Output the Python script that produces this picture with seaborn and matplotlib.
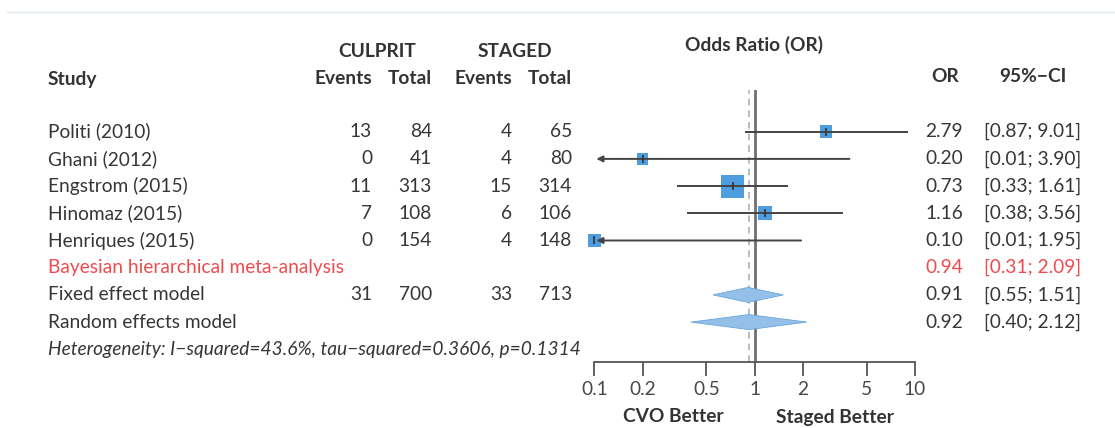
import numpy as np
import pandas as pd
import matplotlib
matplotlib.use("Agg")
import matplotlib.pyplot as plt
import matplotlib.transforms as mtransforms
import seaborn as sns

# ---------------- data ----------------
studies = ["Politi (2010)", "Ghani (2012)", "Engstrom (2015)", "Hinomaz (2015)", "Henriques (2015)"]
culprit_events = [13, 0, 11, 7, 0]
culprit_total = [84, 41, 313, 108, 154]
staged_events = [4, 4, 15, 6, 4]
staged_total = [65, 80, 314, 106, 148]
or_est = [2.79, 0.20, 0.73, 1.16, 0.10]
ci_low = [0.87, 0.01, 0.33, 0.38, 0.01]
ci_high = [9.01, 3.90, 1.61, 3.56, 1.95]
weights = [13.3, 11.3, 43.6, 16.8, 15.0]

summary_labels = ["Bayesian hierarchical meta-analysis", "Fixed effect model", "Random effects model"]
summary_or = [0.94, 0.91, 0.92]
summary_low = [0.31, 0.55, 0.40]
summary_high = [2.09, 1.51, 2.12]
fixed_totals = [31, 700, 33, 713]

heterogeneity = "Heterogeneity: I\u2212squared=43.6%, tau\u2212squared=0.3606, p=0.1314"
x_ticks = [0.1, 0.2, 0.5, 1, 2, 5, 10]
x_ticklabels = ["0.1", "0.2", "0.5", "1", "2", "5", "10"]
reference_line = 0.92

# ---------------- style ----------------
sns.set_theme(style="white")
plt.rcParams["font.family"] = ["Lato", "DejaVu Sans"]
FS = 13.8
TXT = "#363636"
RED = "#ef4b4f"
SQ = "#4d9de0"
DIA = "#93bfe8"
HDR_W = "bold"

W, H = 1115, 428
fig = plt.figure(figsize=(W / 100, H / 100), dpi=100)
fig.patch.set_facecolor("white")

# axes for the forest panel (pixels: x 594-915, y 90-362)
ax_left, ax_right, ax_top, ax_bot = 594.3, 915.0, 90.0, 361.7
ax = fig.add_axes([ax_left / W, (H - ax_bot) / H, (ax_right - ax_left) / W, (ax_bot - ax_top) / H])
ax.set_xscale("log")
row0, step = 131.7, 27.2

rows = np.arange(len(studies))
df = pd.DataFrame({"study": studies, "OR": or_est, "row": rows, "w": weights})

# reference lines
ax.axvline(1, color="#707070", lw=2.0, zorder=1)
ax.axvline(reference_line, color="#b0b0b0", lw=1.2, ls=(0, (4, 3)), zorder=1)

# squares (weights)
sns.scatterplot(data=df, x="OR", y="row", size="w", sizes=(0, 274), size_norm=(0, max(weights)),
                marker="s", color=SQ, linewidth=0, legend=False, ax=ax, zorder=3, clip_on=False)

ax.set_xlim(0.1, 10)
ax.set_ylim((ax_bot - row0) / step, (ax_top - row0) / step)
ax.set_facecolor("none")
for s in ["top", "right", "left"]:
    ax.spines[s].set_visible(False)
ax.spines["bottom"].set_color("#555555")
ax.spines["bottom"].set_linewidth(1.3)
ax.set_xticks(x_ticks)
ax.set_xticklabels(x_ticklabels)
ax.xaxis.set_minor_locator(matplotlib.ticker.NullLocator())
ax.tick_params(axis="x", direction="out", length=10, width=1.3, color="#555555",
               labelsize=FS, labelcolor="#484848", pad=4, bottom=True)
ax.set_yticks([])
ax.set_xlabel("")
ax.set_ylabel("")

# CI lines
xmin = ax.get_xlim()[0]
for r, lo, hi in zip(rows, ci_low, ci_high):
    if lo < xmin:
        ax.annotate("", xy=(xmin * 1.03, r), xytext=(hi, r),
                    arrowprops=dict(arrowstyle="-|>", color="#444444", lw=1.4,
                                    mutation_scale=9, shrinkA=0, shrinkB=0), zorder=4)
    else:
        ax.plot([lo, hi], [r, r], color="#444444", lw=1.4, zorder=4, solid_capstyle="butt")
ax.plot(or_est, rows, ls="none", marker="|", ms=6, mew=1.2, color="#333333", zorder=5, clip_on=False)

# diamonds for fixed and random
dh = 7.5 / step
for i in (1, 2):
    r = len(studies) + i
    lo, est, hi = summary_low[i], summary_or[i], summary_high[i]
    ax.fill([lo, est, hi, est], [r, r - dh, r, r + dh], facecolor=DIA, edgecolor="#6aa7dd",
            lw=0.6, zorder=3)

# ---------------- text ----------------
tr_row = mtransforms.blended_transform_factory(fig.transFigure, ax.transData)

def fx(px):
    return px / W

def fy(py):
    return (H - py) / H

hdr = dict(fontsize=FS, color="#333333", fontweight=HDR_W, va="center")
fig.text(fx(48), fy(79), "Study", ha="left", **hdr)
fig.text(fx(376.7), fy(51.7), "CULPRIT", ha="center", **hdr)
fig.text(fx(515), fy(51.7), "STAGED", ha="center", **hdr)
for xp, t in zip([372, 432, 512, 572], ["Events", "Total", "Events", "Total"]):
    fig.text(fx(xp), fy(78), t, ha="right", **hdr)
fig.text(fx(754), fy(45), "Odds Ratio (OR)", ha="center", **hdr)
fig.text(fx(945), fy(77), "OR", ha="center", **hdr)
fig.text(fx(1033), fy(77), "95%\u2212CI", ha="center", **hdr)
fig.text(fx(673), fy(417), "CVO Better", ha="center", **hdr)
fig.text(fx(835), fy(417), "Staged Better", ha="center", **hdr)

body = dict(fontsize=FS, va="center", transform=tr_row)
for r in rows:
    ax.text(fx(48), r, studies[r], ha="left", color=TXT, **body)
    for xp, v in zip([372, 432, 512, 572], [culprit_events[r], culprit_total[r], staged_events[r], staged_total[r]]):
        ax.text(fx(xp), r, str(v), ha="right", color=TXT, **body)
    ax.text(fx(963), r, f"{or_est[r]:.2f}", ha="right", color=TXT, **body)
    ax.text(fx(1033), r, f"[{ci_low[r]:.2f}; {ci_high[r]:.2f}]", ha="center", color=TXT, **body)

for i, lab in enumerate(summary_labels):
    r = len(studies) + i
    col = RED if i == 0 else TXT
    ax.text(fx(48), r, lab, ha="left", color=col, **body)
    ax.text(fx(963), r, f"{summary_or[i]:.2f}", ha="right", color=col, **body)
    ax.text(fx(1033), r, f"[{summary_low[i]:.2f}; {summary_high[i]:.2f}]", ha="center", color=col, **body)
for xp, v in zip([372, 432, 512, 572], fixed_totals):
    ax.text(fx(xp), len(studies) + 1, str(v), ha="right", color=TXT, **body)

ax.text(fx(48), len(studies) + 3, heterogeneity, ha="left", color=TXT, style="italic", **body)

# top separator line
fig.add_artist(plt.Line2D([fx(7), 1], [fy(12.3), fy(12.3)], color="#dfe7ef", lw=1.0))

fig.savefig("out.png", dpi=100, facecolor="white")
